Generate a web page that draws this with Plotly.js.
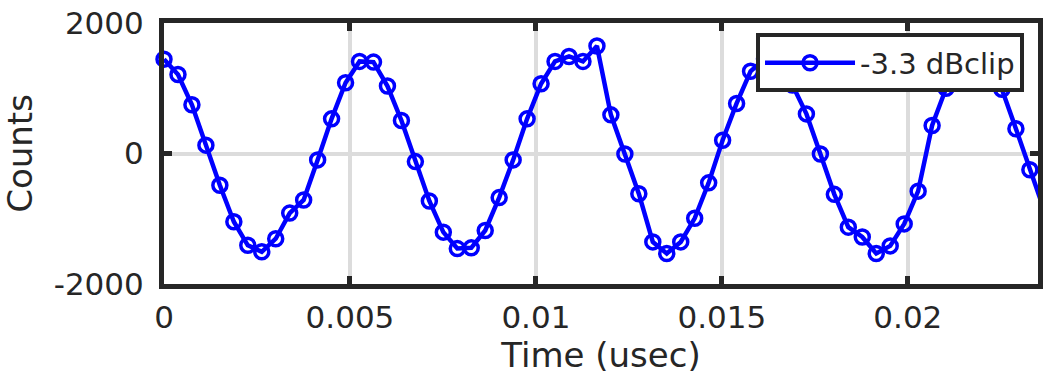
<!DOCTYPE html>
<html>
<head>
<meta charset="utf-8">
<script src="https://cdn.plot.ly/plotly-3.0.1.min.js"></script>
<style>html,body{margin:0;padding:0;background:#fff;}#chart{width:1045px;height:385px;}</style>
</head>
<body>
<div id="chart"></div>
<script>
// Sample times (usec)
const timeUsec = [0, 0.000376, 0.000751, 0.001127, 0.001502, 0.001878, 0.002253, 0.002629,
  0.003004, 0.003380, 0.003755, 0.004131, 0.004506, 0.004882, 0.005257, 0.005633,
  0.006008, 0.006384, 0.006759, 0.007135, 0.007510, 0.007886, 0.008261, 0.008637,
  0.009012, 0.009388, 0.009763, 0.010139, 0.010514, 0.010890, 0.011265, 0.011641,
  0.012016, 0.012392, 0.012767, 0.013143, 0.013518, 0.013894, 0.014269, 0.014645,
  0.015020, 0.015396, 0.015771, 0.016147, 0.016522, 0.016898, 0.017273, 0.017649,
  0.018024, 0.018400, 0.018775, 0.019151, 0.019526, 0.019902, 0.020277, 0.020653,
  0.021028, 0.021404, 0.021779, 0.022155, 0.022530, 0.022906, 0.023281, 0.023657];
// Counts, -3.3 dBclip
const counts = [1446, 1211, 747, 128, -486, -1045, -1407, -1506,
  -1306, -913, -712, -98, 531, 1084, 1411, 1401,
  1034, 506, -124, -728, -1205, -1457, -1446, -1180,
  -676, -98, 531, 1069, 1411, 1487, 1411, 1648,
  592, -8, -616, -1355, -1532, -1355, -993, -450,
  204, 767, 1260, 1450, 1420, 1049, 607, -8,
  -626, -1129, -1280, -1532, -1416, -1079, -577, 430,
  999, 1400, 1480, 1400, 984, 380, -249, -853];
const seriesName = '-3.3 dBclip';
const xTickVals = [0, 0.005, 0.01, 0.015, 0.02];
const xTickText = ['0', '0.005', '0.01', '0.015', '0.02'];
const yTickVals = [-2000, 0, 2000];
const yTickText = ['-2000', '0', '2000'];

const dark = '#262626';
const font = 'DejaVu Sans';

const trace = {
  x: timeUsec, y: counts, name: seriesName, type: 'scatter', mode: 'lines+markers',
  line: {color: '#0000ff', width: 4.5},
  marker: {symbol: 'circle-open', size: 14, color: '#0000ff', line: {width: 3.5, color: '#0000ff'}},
  cliponaxis: false, showlegend: true
};

const axisCommon = {
  showline: true, linewidth: 5, linecolor: dark, mirror: 'ticks',
  ticks: 'inside', ticklen: 8, tickwidth: 5, tickcolor: dark,
  showgrid: true, gridcolor: '#dcdcdc', gridwidth: 4, zeroline: false,
  tickfont: {family: font, size: 31, color: dark},
  tickmode: 'array'
};

const layout = {
  width: 1045, height: 385,
  margin: {l: 164, r: 7, t: 23, b: 101},
  paper_bgcolor: '#ffffff', plot_bgcolor: '#ffffff',
  xaxis: Object.assign({}, axisCommon, {
    range: [0, 0.0235], tickvals: xTickVals, ticktext: xTickText,
    ticklabelstandoff: 2,
    title: {text: 'Time (usec)', font: {family: font, size: 34, color: dark}, standoff: 8}
  }),
  yaxis: Object.assign({}, axisCommon, {
    range: [-2000, 2000], tickvals: yTickVals, ticktext: yTickText,
    ticklabelstandoff: 9,
    title: {text: 'Counts', font: {family: font, size: 34, color: dark}, standoff: 12}
  }),
  legend: {
    x: 0.984, y: 0.96, xanchor: 'right', yanchor: 'top',
    bgcolor: '#ffffff', bordercolor: dark, borderwidth: 4,
    font: {family: font, size: 29, color: dark},
    itemwidth: 90
  },
  showlegend: true
};

Plotly.newPlot('chart', [trace], layout, {displayModeBar: false, staticPlot: true});
</script>
</body>
</html>
